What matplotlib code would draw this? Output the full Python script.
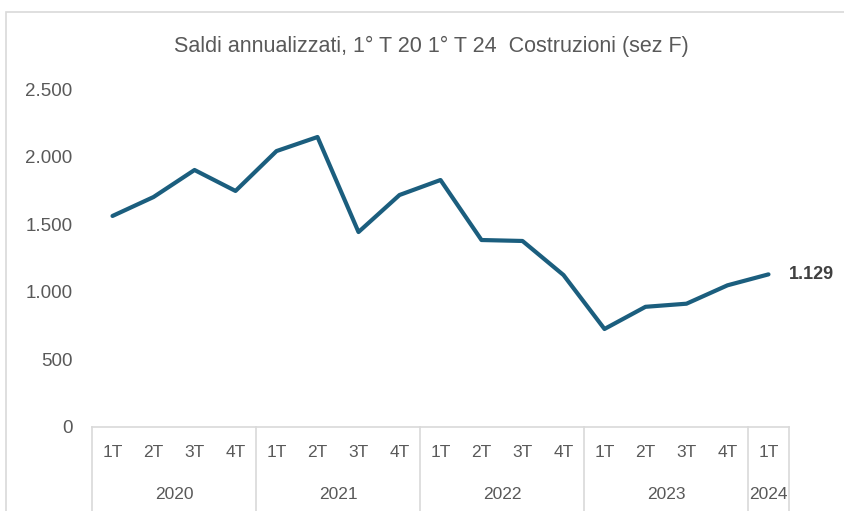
import numpy as np
import matplotlib.pyplot as plt
from matplotlib.patches import Rectangle
from matplotlib.ticker import FuncFormatter

# dati
anni = ['2020', '2021', '2022', '2023', '2024']
trimestri_per_anno = [4, 4, 4, 4, 1]
trimestri = ['1T', '2T', '3T', '4T'] * 4 + ['1T']
saldi = [1561, 1701, 1901, 1746,
         2041, 2145, 1442, 1716,
         1827, 1383, 1376, 1124,
         725, 889, 912, 1048,
         1129]

linea = '#1B5E7E'
grigio = '#595959'
bordo = '#D9D9D9'

plt.rcParams['font.family'] = ['Liberation Sans', 'DejaVu Sans']

fig = plt.figure(figsize=(8.45, 5.11), dpi=100)
ax = fig.add_axes([0.1089, 0.1644, 0.9337 - 0.1089, 0.8258 - 0.1644])

# cornice del grafico
fig.patches.append(Rectangle((6 / 845, -0.05), 1.1, 0.05 + (511 - 12) / 511,
                             transform=fig.transFigure, fill=False,
                             edgecolor=bordo, linewidth=1.2))

x = np.arange(len(saldi))
ax.plot(x, saldi, color=linea, linewidth=3, solid_capstyle='round',
        solid_joinstyle='round')
ax.text(x[-1] + 0.5, saldi[-1], f"{saldi[-1]:,}".replace(',', '.'),
        fontsize=13, fontweight='bold', color='#404040', va='center', ha='left')

ax.set_xlim(-0.5, len(saldi) - 0.5)
ax.set_ylim(0, 2500)
ax.set_yticks(np.arange(0, 2501, 500))
ax.yaxis.set_major_formatter(FuncFormatter(lambda v, p: f"{int(v):,}".replace(',', '.')))
ax.tick_params(axis='y', length=0, pad=14, labelsize=13.5, labelcolor=grigio)

ax.set_xticks(x)
ax.set_xticklabels(trimestri)
ax.tick_params(axis='x', length=0, pad=13, labelsize=12.5, labelcolor=grigio)

for s in ['top', 'right', 'left']:
    ax.spines[s].set_visible(False)
ax.spines['bottom'].set_color(bordo)
ax.spines['bottom'].set_linewidth(1.2)

# divisori e etichette degli anni
trans = ax.get_xaxis_transform()
pos = -0.5
ax.plot([pos, pos], [0, -0.4], transform=trans, color=bordo, lw=1.2, clip_on=False)
for anno, n in zip(anni, trimestri_per_anno):
    ax.text(pos + n / 2, -0.2, anno, transform=trans, ha='center', va='center',
            fontsize=12.5, color=grigio)
    pos += n
    ax.plot([pos, pos], [0, -0.4], transform=trans, color=bordo, lw=1.2, clip_on=False)

fig.text(0.51, 0.91, 'Saldi annualizzati, 1° T 20 1° T 24  Costruzioni (sez F)',
         ha='center', va='center', fontsize=15.5, color=grigio)

plt.savefig('out.png', dpi=100)
